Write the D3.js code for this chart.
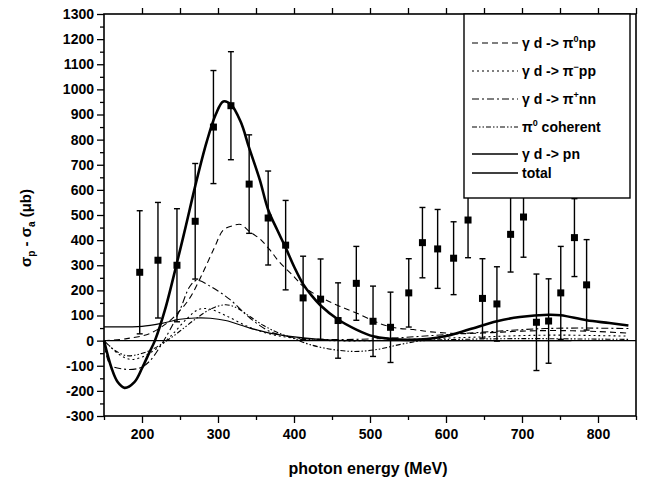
<!DOCTYPE html>
<html><head><meta charset="utf-8">
<script src="https://cdn.jsdelivr.net/npm/d3@7"></script>
<style>body{margin:0;background:#fff}svg{display:block}</style>
</head><body>
<svg id="c" width="649" height="484"></svg>
<script>
// ---- data ----
const pointE   = [197,221,246,270,294,317,341,366,389,412,435,458,482,504,527,551,569,589,610,629,648,667,685,702,719,735,751,769,785];
const pointV   = [272,320,300,475,850,935,623,488,380,170,165,80,228,77,53,190,390,365,328,480,168,146,423,492,73,78,190,410,222];
const pointErr = [245,230,225,230,225,215,196,187,178,166,160,150,147,140,140,136,140,157,145,150,158,148,150,160,192,168,185,155,180];

const totalE = [150,160,168,177,190,200,210,217,230,246,258,270,285,297,307,317,330,341,355,366,378,389,400,412,423,435,458,482,504,527,550,575,600,631,667,697,735,751,785,815,840];
const totalV = [0,-110,-165,-188,-165,-110,-45,0,120,310,460,615,790,900,952,940,870,767,640,521,440,370,295,225,180,140,84,44,17,7,3,6,18,45,77,94,103,101,81,70,60];

const pnE = [150,200,225,250,270,290,310,342,368,395,430,470,520,600,700,765];
const pnV = [55,57,68,85,90,89,80,50,30,17,6,0,0,0,0,0];

const pi0npE = [150,180,210,235,250,263,280,296,307,320,330,341,355,368,381,400,412,439,460,482,513,535,557,580,620,660,700,750,800,840];
const pi0npV = [0,8,28,75,120,170,270,375,440,458,462,435,405,362,312,255,216,166,137,110,68,50,44,35,28,32,38,40,36,30];

const pimppE = [150,170,185,200,220,240,260,275,290,310,340,370,400,450,500,550,600,650,700,750,800,840];
const pimppV = [0,-55,-75,-65,-30,25,90,125,125,100,55,25,10,0,0,5,10,15,20,22,20,18];

const pipnnE = [150,158,175,197,210,224,237,250,263,272,290,316,342,368,395,430,480,530,580,630,680,730,780,840];
const pipnnV = [0,-95,-113,-109,-82,-23,44,123,216,240,216,163,90,37,15,5,5,10,20,30,40,48,50,48];

const cohE = [150,165,180,195,210,225,240,255,270,290,310,325,340,360,380,400,420,450,480,510,540,570,620,700,800,840];
const cohV = [0,-40,-60,-55,-40,-15,15,50,85,125,143,130,100,60,30,8,-15,-35,-43,-35,-15,0,5,8,6,5];

const xTickValues = [200,300,400,500,600,700,800];
const xTickLabels = ["200","300","400","500","600","700","800"];
const yTickValues = [-300,-200,-100,0,100,200,300,400,500,600,700,800,900,1000,1100,1200,1300];
const yTickLabels = ["-300","-200","-100","0","100","200","300","400","500","600","700","800","900","1000","1100","1200","1300"];

// ---- drawing ----
const svg = d3.select("#c");
const FONT = "'Liberation Sans', Arial, sans-serif";
const x = d3.scaleLinear().domain([150,850]).range([104,636]);
const y = d3.scaleLinear().domain([-300,1300]).range([416,14]);

svg.append("rect").attr("width",649).attr("height",484).attr("fill","#fff");

// minor ticks
const yMinor = d3.range(-250,1300,100);
const xMinor = d3.range(150,851,100);
const gL = svg.append("g").attr("transform",`translate(${x(150)},0)`);
gL.call(d3.axisLeft(y).tickValues(yTickValues).tickSize(7).tickFormat((d,i)=>yTickLabels[i]).tickPadding(3));
gL.append("g").call(d3.axisLeft(y).tickValues(yMinor).tickSize(4).tickFormat(""));
const gB = svg.append("g").attr("transform",`translate(0,${y(-300)})`);
gB.call(d3.axisBottom(x).tickValues(xTickValues).tickSize(7).tickFormat((d,i)=>xTickLabels[i]).tickPadding(6));
gB.append("g").call(d3.axisBottom(x).tickValues(xMinor).tickSize(4).tickFormat(""));
const gT = svg.append("g").attr("transform",`translate(0,${y(1300)})`);
gT.call(d3.axisTop(x).tickValues(d3.range(200,851,50)).tickSize(6).tickFormat(""));
svg.selectAll(".domain").remove();
svg.selectAll(".tick line").attr("stroke","#000").attr("stroke-width",1.3);
svg.selectAll(".tick text").attr("font-family",FONT).attr("font-weight","bold").attr("font-size",14).attr("fill","#000");

// frame
svg.append("rect").attr("x",x(150)).attr("y",y(1300)).attr("width",x(850)-x(150)).attr("height",y(-300)-y(1300))
  .attr("fill","none").attr("stroke","#000").attr("stroke-width",1.6);

// zero line
svg.append("line").attr("x1",x(150)).attr("x2",x(850)).attr("y1",y(0)).attr("y2",y(0)).attr("stroke","#000").attr("stroke-width",1.1);

const line = d3.line().x(d=>x(d[0])).y(d=>y(d[1])).curve(d3.curveCatmullRom.alpha(0.5));
function curve(E,V,dash,w){
  svg.append("path").datum(E.map((e,i)=>[e,V[i]])).attr("d",line)
    .attr("fill","none").attr("stroke","#000").attr("stroke-width",w).attr("stroke-dasharray",dash);
}
curve(pi0npE,pi0npV,"6,4",1.1);
curve(pimppE,pimppV,"2,3",1.1);
curve(pipnnE,pipnnV,"7,3,2,3",1.1);
curve(cohE,cohV,"5,2,1.5,2,1.5,2",1.1);
curve(pnE,pnV,null,1.2);
curve(totalE,totalV,null,2.6);

// data points
const pts = svg.append("g");
pointE.forEach((e,i)=>{
  const cx=x(e), v=pointV[i], er=pointErr[i];
  pts.append("line").attr("x1",cx).attr("x2",cx).attr("y1",y(v-er)).attr("y2",y(v+er)).attr("stroke","#000").attr("stroke-width",1.4);
  [v-er,v+er].forEach(t=>pts.append("line").attr("x1",cx-3).attr("x2",cx+3).attr("y1",y(t)).attr("y2",y(t)).attr("stroke","#000").attr("stroke-width",1.4));
  pts.append("rect").attr("x",cx-3.5).attr("y",y(v)-3.5).attr("width",7).attr("height",7).attr("fill","#000");
});

// legend
const lg = svg.append("g");
lg.append("rect").attr("x",464).attr("y",y(1300)).attr("width",166).attr("height",198-y(1300))
  .attr("fill","#fff").attr("stroke","#000").attr("stroke-width",1.4);
const legendItems = [
  {dash:"6,4",w:1.2,parts:[["γ d -> π",""],["0","sup"],["np",""]],yy:43},
  {dash:"2,3",w:1.2,parts:[["γ d -> π",""],["−","sup"],["pp",""]],yy:71},
  {dash:"7,3,2,3",w:1.2,parts:[["γ d -> π",""],["+","sup"],["nn",""]],yy:99},
  {dash:"5,2,1.5,2,1.5,2",w:1.2,parts:[["π",""],["0","sup"],[" coherent",""]],yy:127},
  {dash:null,w:1.3,parts:[["γ d -> pn",""]],yy:154},
  {dash:null,w:1.6,parts:[["total",""]],yy:173}
];
legendItems.forEach(it=>{
  lg.append("line").attr("x1",472).attr("x2",518).attr("y1",it.yy).attr("y2",it.yy)
    .attr("stroke","#000").attr("stroke-width",it.w).attr("stroke-dasharray",it.dash);
  const t = lg.append("text").attr("x",522).attr("y",it.yy+5).attr("font-family",FONT).attr("font-weight","bold").attr("font-size",14);
  let sup=false;
  it.parts.forEach(p=>{
    const s=t.append("tspan").text(p[0]);
    if(p[1]==="sup"){ s.attr("dy",-6).attr("font-size",9); sup=true; }
    else if(sup){ s.attr("dy",6); sup=false; }
  });
});

// axis titles
svg.append("text").attr("x",368).attr("y",474).attr("text-anchor","middle")
  .attr("font-family",FONT).attr("font-weight","bold").attr("font-size",16).text("photon energy (MeV)");
const yt = svg.append("text").attr("transform","translate(31,228) rotate(-90)").attr("text-anchor","middle")
  .attr("font-family",FONT).attr("font-weight","bold").attr("font-size",15);
yt.append("tspan").text("σ");
yt.append("tspan").attr("dy",4).attr("font-size",10).text("p");
yt.append("tspan").attr("dy",-4).text(" - σ");
yt.append("tspan").attr("dy",4).attr("font-size",10).text("a");
yt.append("tspan").attr("dy",-4).text("  (μb)");
</script>
</body></html>
